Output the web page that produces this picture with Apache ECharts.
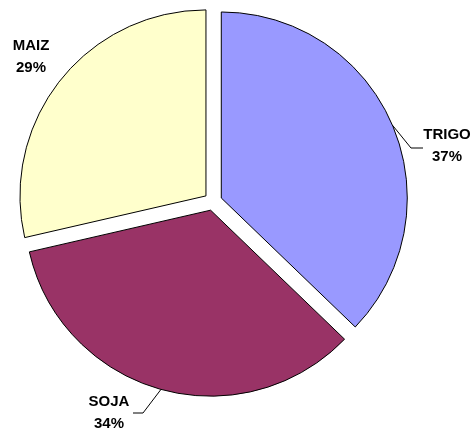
<!DOCTYPE html>
<html>
<head>
<meta charset="utf-8">
<script src="https://cdn.jsdelivr.net/npm/echarts@6/dist/echarts.min.js"></script>
<style>
html,body{margin:0;padding:0;background:#fff;}
#chart{width:475px;height:433px;}
</style>
</head>
<body>
<div id="chart"></div>
<script>
const categories = ['TRIGO', 'SOJA', 'MAIZ'];
const shares = [37.2, 34.2, 28.6];
const sliceColors = ['#9999FF', '#993366', '#FFFFCC'];

// layout (positions only)
const pieCenter = [213, 201.5];
const pieRadius = 186;
const explode = 9;
const labelAnchors = [[447, 146], [109, 412.5], [31, 57]];
const labelElbows = [[[411, 148], [423, 148]], [[143, 413], [133, 413]], null];

const chart = echarts.init(document.getElementById('chart'), null, {renderer: 'canvas'});

const total = shares.reduce((a, b) => a + b, 0);
let cum = 0;
const series = categories.map((cat, i) => {
  const mid = (cum + shares[i] / 2) / total * 2 * Math.PI;
  cum += shares[i];
  const cx = pieCenter[0] + explode * Math.sin(mid);
  const cy = pieCenter[1] - explode * Math.cos(mid);
  return {
    type: 'pie',
    center: [cx, cy],
    radius: pieRadius,
    startAngle: 90,
    clockwise: true,
    silent: true,
    avoidLabelOverlap: false,
    emphasis: {disabled: true},
    label: {
      show: true,
      position: 'outside',
      formatter: p => p.name + '\n' + Math.round(p.percent) + '%',
      fontFamily: 'Liberation Sans, Arial, sans-serif',
      fontWeight: 'bold',
      fontSize: 15,
      lineHeight: 22,
      color: '#000',
      align: 'center'
    },
    labelLine: {show: true, length: 10, length2: 10, lineStyle: {color: '#000', width: 1}},
    labelLayout: function (params) {
      const a = labelAnchors[i];
      const res = {x: a[0], y: a[1], align: 'center', verticalAlign: 'middle'};
      if (labelElbows[i] && params.labelLinePoints) {
        res.labelLinePoints = [params.labelLinePoints[0], labelElbows[i][0], labelElbows[i][1]];
      }
      return res;
    },
    data: categories.map((c, j) => ({
      name: c,
      value: shares[j],
      itemStyle: j === i
        ? {color: sliceColors[j], borderColor: '#000', borderWidth: 1}
        : {color: 'rgba(0,0,0,0)', borderWidth: 0},
      label: {show: j === i},
      labelLine: {show: j === i && labelElbows[i] !== null}
    }))
  };
});

chart.setOption({animation: false, backgroundColor: '#fff', series: series});
</script>
</body>
</html>
